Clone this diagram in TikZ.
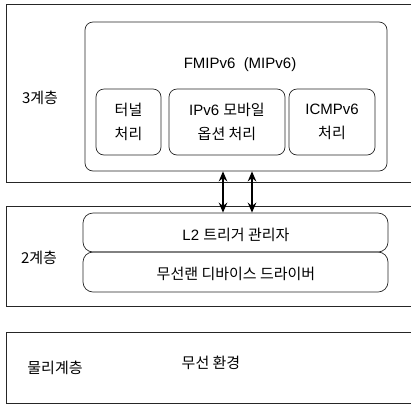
\documentclass[tikz,border=0pt]{standalone}
\usepackage{fontspec}
\setmainfont{Liberation Sans}
\newfontfamily\kr{Noto Sans CJK KR}
\usetikzlibrary{arrows.meta}
\begin{document}
\begin{tikzpicture}[x=1pt,y=-1pt,font=\fontsize{15}{24}\selectfont]
 	\tikzstyle{every node}+=[inner sep=0pt]
 	\tikzstyle{layer}=[draw=black!85, line width=0.7pt]
 	\tikzstyle{rbox}=[draw=black!85, line width=0.7pt, rounded corners=8pt, align=center]
 	\tikzstyle{link}=[black, line width=1.7pt, {Stealth[length=10pt,width=8.5pt]}-{Stealth[length=10pt,width=8.5pt]}]
 	\useasboundingbox (0,0) rectangle (411,408);
 	\draw [layer] (411,4) -- (6,4) -- (6,182) -- (411,182);
 	\draw [layer] (411,206) -- (6,206) -- (6,306) -- (411,306);
 	\draw [layer] (411,332) -- (6,332) -- (6,403) -- (411,403);
 	\node (l3) at (40,98) {\kr 3계층};
 	\node (l2) at (39,258) {\kr 2계층};
 	\node (phy) at (55,368) {\kr 물리계층};
 	\node (radio) at (211,363) {\kr 무선 환경};
 	\node [rbox, minimum width=302pt, minimum height=149pt] (fmip) at (236,96.5) {};
 	\node (fmiptitle) at (240,65) {FMIPv6 \ (MIPv6)};
 	\node [rbox, minimum width=65pt, minimum height=66pt] (tunnel) at (128.5,122) {\kr 터널\\\kr 처리};
 	\node [rbox, minimum width=116pt, minimum height=66pt] (option) at (227,122) {IPv6 {\kr 모바일}\\\kr 옵션 처리};
 	\node [rbox, minimum width=86pt, minimum height=66pt] (icmp) at (332,122) {ICMPv6\\\kr 처리};
 	\node [rbox, rounded corners=10pt, minimum width=305pt, minimum height=39pt] (trigger) at (235.5,232.5) {};
 	\node [rbox, rounded corners=10pt, minimum width=305pt, minimum height=40pt] (driver) at (235.5,272) {};
 	\node (triggertext) at (236,235) {L2 {\kr 트리거 관리자}};
 	\node (drivertext) at (236,274) {\kr 무선랜 디바이스 드라이버};
 	\coordinate (a1) at (223,0);
 	\coordinate (a2) at (252,0);
 	\draw [link] (fmip.south -| a1) -- (trigger.north -| a1);
 	\draw [link] (fmip.south -| a2) -- (trigger.north -| a2);
\end{tikzpicture}
\end{document}
